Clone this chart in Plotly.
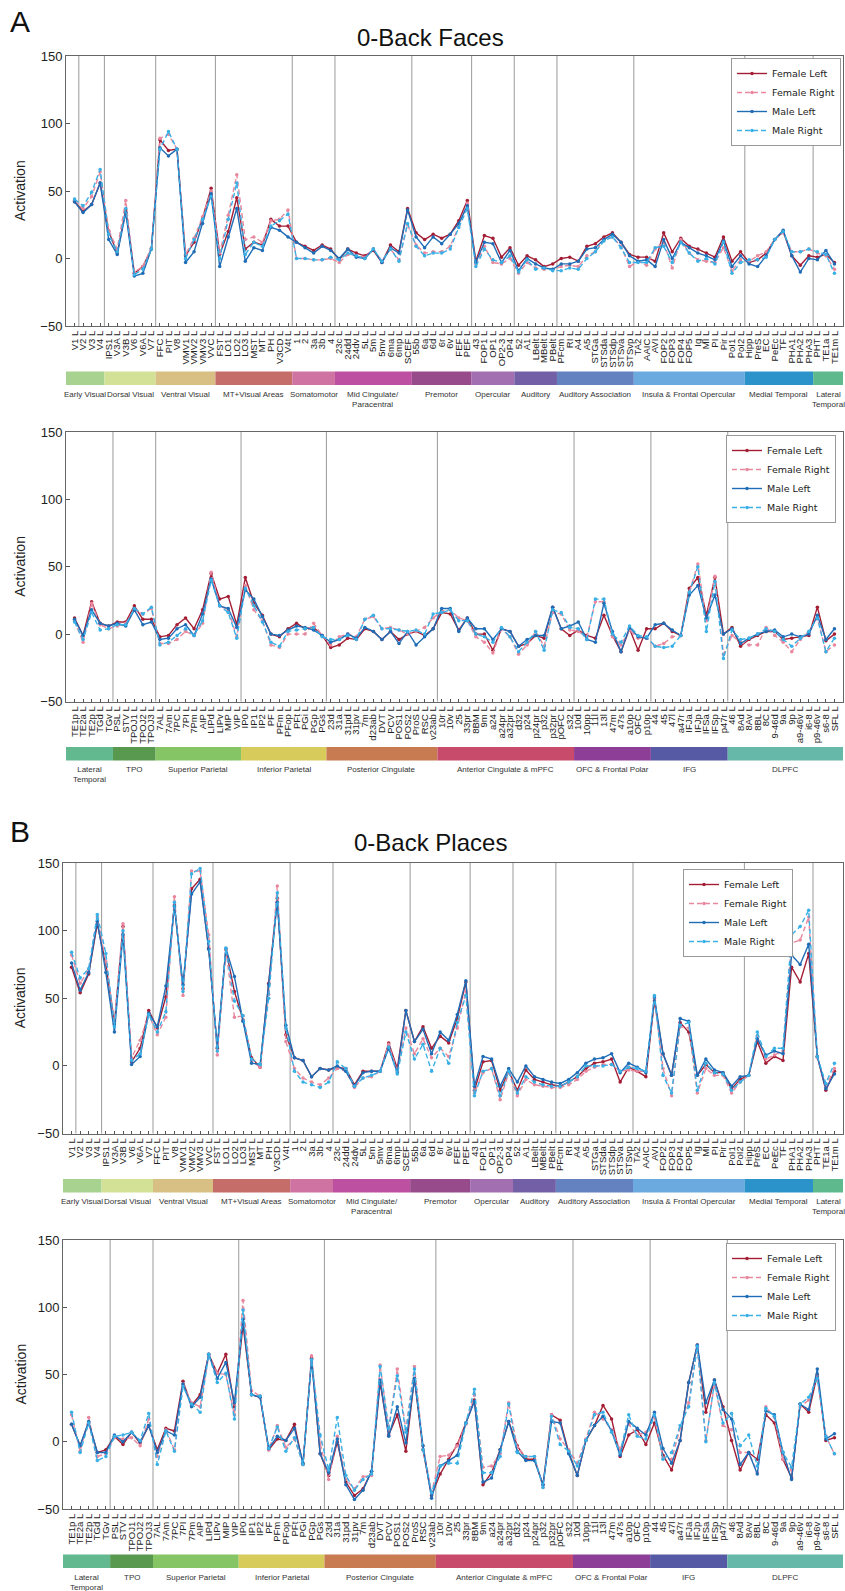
import plotly.graph_objects as go

W, H = 845, 1591

# ---------------- categories ----------------
regions_top = ["V1","V2","V3","V4","IPS1","V3A","V3B","V6","V6A","V7",
               "FFC","PIT","V8","VMV1","VMV2","VMV3","VVC",
               "FST","LO1","LO2","LO3","MST","MT","PH","V3CD","V4t",
               "1","2","3a","3b","4",
               "23c","24dd","24dv","5L","5m","5mv","6ma","6mp","SCEF",
               "55b","6a","6d","6r","6v","FEF","PEF",
               "43","FOP1","OP1","OP2-3","OP4",
               "52","A1","LBelt","MBelt","PBelt",
               "PFcm","RI","A4","A5","STGa","STSda","STSdp","STSva","STSvp",
               "TA2","AAIC","AVI","FOP2","FOP3","FOP4","FOP5","Ig","MI","PI","Pir","PoI1","PoI2",
               "Hipp","PreS","EC","PeEc","TF","PHA1","PHA2","PHA3",
               "PHT","TE1a","TE1m"]
regions_bottom = ["TE1p","TE2a","TE2p","TGd","TGv",
                  "PSL","STV","TPOJ1","TPOJ2","TPOJ3",
                  "7AL","7Am","7PC","7PI","7Pm","AIP","LIPd","LIPv","MIP","VIP",
                  "IP0","IP1","IP2","PF","PFm","PFop","PFt","PGi","PGp","PGs",
                  "23d","31a","31pd","31pv","7m","d23ab","DVT","PCV","POS1","POS2","ProS","RSC","v23ab",
                  "10r","10v","25","33pr","8BM","9m","a24","a24pr","a32pr","d32","p24","p24pr","p32","p32pr","pOFC","s32",
                  "10d","10pp","11l","13l","47m","47s","a10p","OFC","p10p",
                  "44","45","47l","a47r","IFJa","IFJp","IFSa","IFSp","p47r",
                  "46","8Ad","8Av","8BL","8C","9-46d","9a","9p","a9-46v","i6-8","p9-46v","s6-8","SFL"]

groups_top = ["Early Visual","Dorsal Visual","Ventral Visual","MT+Visual Areas","Somatomotor",
              "Mid Cingulate/<br>Paracentral","Premotor","Opercular","Auditory","Auditory Association",
              "Insula & Frontal Opercular","Medial Temporal","Lateral<br>Temporal"]
group_sizes_top = [4, 6, 7, 9, 5, 9, 7, 5, 5, 9, 13, 8, 3]
group_colors_top = ["#a8d28f","#d3e197","#d8c084","#c56d68","#cf74a2","#bd50a0","#974b8b",
                    "#a26fb1","#735fa6","#6482bf","#6aaade","#2c93ca","#5eb98d"]
extra_dividers_top = [1]

groups_bottom = ["Lateral<br>Temporal","TPO","Superior Parietal","Inferior Parietal","Posterior Cingulate",
                 "Anterior Cingulate & mPFC","OFC & Frontal Polar","IFG","DLPFC"]
group_sizes_bottom = [5, 5, 10, 10, 13, 16, 9, 9, 13]
group_colors_bottom = ["#62b98f","#58994f","#86c566","#d6cb5b","#c87a51","#c84b6b","#8d3e97","#5659a3","#66b9a8"]
extra_dividers_bottom = []

series_names = ["Female Left", "Female Right", "Male Left", "Male Right"]

# ---------------- values: 0-Back Faces ----------------
faces_top_FL = [42,35,40,56,20,4,36,-11,-6,7,
                88,80,81,2,12,30,52,3,20,45,
                7,12,10,29,24,24,12,9,6,10,
                7,-1,7,4,2,6,-3,10,5,37,
                19,14,18,15,18,28,43,-2,17,15,
                1,8,-5,2,-1,-6,-4,0,1,-2,
                9,11,16,19,12,3,1,1,-2,19,
                5,15,9,7,4,1,16,-2,5,-3,
                -1,4,14,20,2,-5,2,1,3,-3]
faces_top_FR = [43,37,46,64,21,7,43,-10,-6,8,
                89,92,81,3,15,31,50,4,32,62,
                14,16,12,28,29,36,0,0,-1,-1,
                0,-3,3,2,1,7,-2,7,-1,25,
                10,4,5,5,9,24,41,-4,9,-3,
                -4,0,-11,-3,-7,-8,-8,-6,-5,-6,
                2,5,14,16,9,-6,-2,-5,7,12,
                -7,14,4,-1,-2,-3,8,-9,-1,-2,
                2,5,14,19,5,5,7,4,2,-8]
faces_top_ML = [42,34,40,56,14,3,34,-13,-11,7,
                82,76,81,-3,5,26,48,-6,16,37,
                -2,8,6,23,21,16,12,8,4,9,
                6,0,7,1,0,7,-3,8,4,36,
                16,8,16,11,18,26,39,-3,12,11,
                -3,6,-9,0,-4,-7,-8,-4,-4,-2,
                7,8,14,18,12,2,-2,-1,-6,14,
                0,12,8,4,2,-1,13,-6,2,-4,
                -6,2,14,21,2,-10,0,-1,6,-4]
faces_top_MR = [44,39,49,66,18,5,37,-12,-8,7,
                81,94,81,0,14,29,46,0,29,56,
                3,12,9,24,28,33,0,0,-1,-1,
                1,-1,4,2,0,7,-2,7,-2,26,
                9,2,4,4,7,23,37,-6,7,-1,
                -3,2,-10,-1,-8,-7,-9,-9,-7,-8,
                0,5,13,16,8,-3,-3,-3,8,9,
                -3,12,4,-2,0,-4,12,-11,-3,-1,
                -1,1,14,20,5,5,7,5,3,-11]

faces_bottom_FL = [12,-1,24,8,6,9,9,21,11,11,
                   -2,-1,7,12,4,18,45,26,28,7,
                   42,23,14,0,-2,4,8,4,5,-1,
                   -10,-8,-3,-4,4,2,-4,2,-4,0,
                   2,-1,4,16,15,3,12,0,0,-12,
                   4,2,-9,-7,-1,-3,20,4,-1,3,
                   -1,-3,14,-1,-13,4,-12,4,4,8,
                   2,-1,34,42,14,42,0,5,-9,-4,
                   -1,2,2,-4,-3,-2,-1,20,-5,0]
faces_bottom_FR = [10,-6,23,7,4,6,8,18,15,19,
                   -7,-7,-4,2,-1,8,46,21,18,-2,
                   36,18,10,-8,-10,0,0,0,8,-1,
                   -8,-2,0,-2,11,13,4,5,3,0,
                   2,5,12,17,18,12,10,-2,-6,-14,
                   4,-2,-15,-8,2,-9,16,15,3,2,
                   -2,24,24,-2,-8,3,-3,-3,-9,-7,
                   -2,-1,31,52,10,43,-15,-1,-6,-8,
                   -8,5,-1,-6,-13,-4,2,12,-13,-8]
faces_bottom_ML = [11,-1,18,8,6,8,6,18,7,9,
                   -4,-3,4,7,-1,15,41,21,19,5,
                   33,26,13,0,-1,3,6,5,3,-1,
                   -6,-4,0,-3,5,2,-4,2,-7,2,
                   -8,-2,4,19,19,2,12,4,4,-4,
                   4,2,-9,-4,-1,-1,20,4,6,9,
                   -4,-6,23,2,-13,5,-2,-3,7,8,
                   3,-1,29,36,12,29,0,4,-7,-3,
                   0,2,3,-2,0,-2,0,14,-4,4]
faces_bottom_MR = [9,-4,16,3,4,7,7,19,15,20,
                   -8,-6,-1,4,-1,10,40,21,16,-3,
                   34,21,9,-6,-9,2,3,4,5,-2,
                   -4,-4,-1,-4,11,14,4,4,3,2,
                   3,0,15,16,18,10,10,0,-2,-6,
                   5,-2,-13,-6,2,-12,18,16,5,4,
                   -4,26,26,0,-6,6,-1,-2,-9,-10,
                   -9,-1,31,50,2,39,-18,3,-4,-3,
                   0,4,2,-4,-9,-3,2,12,-13,-3]

# ---------------- values: 0-Back Places ----------------
places_top_FL = [73,54,68,105,75,31,103,3,13,41,
                 28,51,119,57,131,138,87,13,86,55,
                 34,6,-1,61,124,23,6,4,-8,-2,
                 -3,-1,-2,-14,-4,-4,-4,17,-2,41,
                 18,29,13,22,17,35,62,-18,3,4,
                 -18,-4,-18,-3,-10,-12,-14,-15,-12,-8,
                 -2,2,3,5,-12,-1,-4,-8,48,9,
                 -7,32,25,-7,1,-5,-5,-17,-10,-7,
                 18,2,7,4,73,62,83,7,-18,-4]
places_top_FR = [82,61,71,110,77,33,105,6,19,38,
                 23,36,125,52,144,144,97,8,86,36,
                 37,4,-1,53,133,18,-2,-9,-12,-14,
                 -9,-2,-4,-16,-9,-8,-4,16,-4,28,
                 9,20,6,13,7,28,55,-20,-5,-2,
                 -25,-5,-22,-10,-14,-15,-16,-16,-14,-10,
                 -4,-1,1,1,-4,-3,-4,-4,50,-2,
                 -22,29,28,-20,-2,-7,-7,-20,-12,-7,
                 22,5,8,11,91,93,110,6,-15,-2]
places_top_ML = [76,56,69,107,69,25,97,1,7,39,
                 29,59,118,60,127,136,86,14,87,66,
                 33,2,1,60,121,30,6,4,-8,-2,
                 -3,0,-4,-15,-5,-4,-4,13,-5,41,
                 18,27,9,25,19,38,63,-15,7,5,
                 -15,-2,-12,0,-8,-10,-12,-13,-10,-5,
                 2,5,6,9,-5,2,-1,-5,51,9,
                 -7,35,33,-7,5,-3,-5,-15,-8,-7,
                 20,8,11,9,82,75,90,7,-17,-6]
places_top_MR = [84,65,72,112,83,29,100,4,9,38,
                 25,40,121,55,142,146,92,11,87,48,
                 37,5,1,50,128,28,-4,-12,-14,-16,
                 -12,3,-2,-15,-9,-7,-4,14,-6,25,
                 5,16,-4,13,2,32,52,-22,-4,-2,
                 -22,-4,-20,-8,-12,-14,-15,-15,-12,-8,
                 0,0,0,1,-4,-1,-2,-4,52,-7,
                 -20,30,32,-18,2,-5,-6,-18,-12,-7,
                 25,7,13,13,97,103,115,7,-13,2]

places_bottom_FL = [13,-3,14,-8,-6,4,-2,7,-1,12,
                    -6,10,8,45,27,35,65,51,65,26,
                    87,35,33,-6,2,1,13,-17,62,-9,
                    -25,0,-30,-40,-35,-22,44,5,20,-7,
                    47,-6,-40,-24,-13,-2,14,31,-32,-23,
                    -6,15,-3,-13,-13,-32,20,16,-8,-25,
                    1,12,27,17,-11,5,9,-2,14,-10,
                    -21,1,44,72,22,46,26,1,-21,-8,
                    -13,20,14,-13,-27,28,22,50,1,3]
places_bottom_FR = [20,-7,18,-11,-9,3,2,3,-3,17,
                    -11,9,-6,43,29,26,64,51,50,20,
                    105,38,34,-6,12,-4,2,-16,64,-1,
                    -28,4,-28,-35,-26,-25,57,9,54,9,
                    56,-3,-38,-11,-10,-3,13,35,-19,-18,
                    -9,29,-4,-11,-11,-34,20,2,-6,-16,
                    2,22,17,9,-6,13,5,7,18,-12,
                    -13,10,29,71,1,43,12,9,-8,-8,
                    -23,26,18,-13,-21,26,31,49,4,-9]
places_bottom_ML = [13,-3,15,-8,-8,5,0,7,0,12,
                    -8,8,5,43,26,33,65,47,59,29,
                    91,35,33,-5,4,1,10,-16,61,-9,
                    -23,2,-32,-43,-36,-22,46,4,26,-1,
                    47,-3,-42,-18,-14,-10,14,30,-30,-27,
                    -6,15,-7,-14,-14,-32,15,14,-9,-25,
                    1,12,19,8,-10,15,10,5,22,-5,
                    -16,1,44,72,29,46,24,17,-17,-8,
                    -24,23,20,-8,-28,28,24,54,2,6]
places_bottom_MR = [22,-8,14,-14,-11,4,5,7,1,21,
                    -17,8,-7,41,28,22,65,44,51,17,
                    98,35,34,-5,11,-7,3,-17,61,5,
                    -21,18,-25,-36,-28,-24,56,10,49,7,
                    54,-6,-38,-18,-16,-16,14,39,-23,-23,
                    -11,28,-8,-11,-11,-34,19,-2,-7,-18,
                    1,20,22,7,-8,20,4,2,20,-13,
                    -8,12,26,71,0,44,14,21,-3,5,
                    -18,25,19,-8,-19,28,33,47,4,-9]

# ---------------- styling ----------------
series_style = {
    "Female Left":  dict(color="#a31d35", dash="solid"),
    "Female Right": dict(color="#e8879d", dash="5px,3px"),
    "Male Left":    dict(color="#1f6db7", dash="solid"),
    "Male Right":   dict(color="#38b0e6", dash="5px,3px"),
}
NARROW = "Liberation Sans Narrow, Arial Narrow, Liberation Sans, Arial"
SANS = "Liberation Sans, Arial, sans-serif"
RIGHT_PX = 843

panels = [
    dict(regions=regions_top, groups=groups_top, sizes=group_sizes_top, colors=group_colors_top,
         extra=extra_dividers_top,
         data=[faces_top_FL, faces_top_FR, faces_top_ML, faces_top_MR],
         top=56, bot=326, left=66, leg_right=841, leg_top=58),
    dict(regions=regions_bottom, groups=groups_bottom, sizes=group_sizes_bottom, colors=group_colors_bottom,
         extra=extra_dividers_bottom,
         data=[faces_bottom_FL, faces_bottom_FR, faces_bottom_ML, faces_bottom_MR],
         top=432, bot=701.5, left=66, leg_right=836, leg_top=435),
    dict(regions=regions_top, groups=groups_top, sizes=group_sizes_top, colors=group_colors_top,
         extra=extra_dividers_top,
         data=[places_top_FL, places_top_FR, places_top_ML, places_top_MR],
         top=863, bot=1133.5, left=63, leg_right=793, leg_top=869),
    dict(regions=regions_bottom, groups=groups_bottom, sizes=group_sizes_bottom, colors=group_colors_bottom,
         extra=extra_dividers_bottom,
         data=[places_bottom_FL, places_bottom_FR, places_bottom_ML, places_bottom_MR],
         top=1240, bot=1509, left=63, leg_right=836, leg_top=1243),
]

fig = go.Figure()
shapes = []
annotations = []
layout_axes = {}

def py(px):
    return 1 - px / H

for k, p in enumerate(panels, start=1):
    sfx = "" if k == 1 else str(k)
    xa, ya = "x" + sfx, "y" + sfx
    legname = "legend" + sfx
    n = len(p["regions"])
    xs = list(range(1, n + 1))
    for name, vals in zip(series_names, p["data"]):
        st = series_style[name]
        fig.add_trace(go.Scatter(
            x=xs, y=vals, name=name, mode="lines+markers",
            line=dict(color=st["color"], width=1.4, dash=st["dash"]),
            marker=dict(color=st["color"], size=3.5),
            xaxis=xa, yaxis=ya, legend=legname, showlegend=True,
            hovertemplate="%{text}: %{y}<extra>" + name + "</extra>",
            text=[r + " L" for r in p["regions"]],
        ))

    layout_axes["xaxis" + sfx] = dict(
        domain=[p["left"] / W, RIGHT_PX / W], anchor=ya, range=[0, n + 1],
        tickmode="array", tickvals=xs, ticktext=[r + " L" for r in p["regions"]],
        tickangle=-90, tickfont=dict(family=NARROW, size=9.5, color="#222"),
        ticks="inside", ticklen=3, tickcolor="#555",
        showline=True, linecolor="#666", linewidth=1, mirror=True,
        showgrid=False, zeroline=False, automargin=False, fixedrange=True)
    layout_axes["yaxis" + sfx] = dict(
        domain=[py(p["bot"]), py(p["top"])], anchor=xa, range=[-50, 150],
        tickmode="array", tickvals=[-50, 0, 50, 100, 150],
        tickfont=dict(family=NARROW, size=13, color="#222"),
        ticks="inside", ticklen=4, tickcolor="#555",
        showline=True, linecolor="#666", linewidth=1, mirror=True,
        showgrid=False, zeroline=False, automargin=False, fixedrange=True)

    layout_axes[legname] = dict(
        x=p["leg_right"] / W, y=py(p["leg_top"]), xanchor="right", yanchor="top",
        bgcolor="white", bordercolor="#999", borderwidth=1,
        font=dict(family="DejaVu Sans, sans-serif", size=9.5, color="#222"),
        itemwidth=30, tracegroupgap=0, itemclick=False, itemdoubleclick=False)

    # group dividers
    bounds = []
    c = 0
    for s in p["sizes"]:
        c += s
        bounds.append(c)
    dividers = [b + 0.5 for b in bounds[:-1]] + [e + 0.5 for e in p["extra"]]
    for d in dividers:
        shapes.append(dict(type="line", xref=xa, yref=ya + " domain", x0=d, x1=d, y0=0, y1=1,
                           line=dict(color="#a3a3a3", width=1.1), layer="below"))

    # colour bar and group names
    cb_top = p["bot"] + 45.5
    cb_bot = cb_top + 13.5
    start = 0
    for i, (g, s, col) in enumerate(zip(p["groups"], p["sizes"], p["colors"])):
        x0 = 0 if i == 0 else start + 0.5
        x1 = n + 1 if i == len(p["sizes"]) - 1 else start + s + 0.5
        shapes.append(dict(type="rect", xref=xa, yref="paper", x0=x0, x1=x1,
                           y0=py(cb_bot), y1=py(cb_top), fillcolor=col, line=dict(width=0)))
        annotations.append(dict(text=g, xref=xa, yref="paper", x=(x0 + x1) / 2, y=py(cb_bot + 2.5),
                                xanchor="center", yanchor="top", showarrow=False,
                                font=dict(family=SANS, size=8, color="#333")))
        start += s

    # y label
    annotations.append(dict(text="Activation", xref="paper", yref="paper", x=20 / W,
                            y=py((p["top"] + p["bot"]) / 2), textangle=-90, showarrow=False,
                            xanchor="center", yanchor="middle",
                            font=dict(family=SANS, size=14, color="#222")))

# titles and panel letters
annotations += [
    dict(text="A", xref="paper", yref="paper", x=20 / W, y=py(21), showarrow=False,
         xanchor="center", yanchor="middle", font=dict(family=SANS, size=30, color="#111")),
    dict(text="0-Back Faces", xref="paper", yref="paper", x=430 / W, y=py(37), showarrow=False,
         xanchor="center", yanchor="middle", font=dict(family=NARROW, size=24, color="#111")),
    dict(text="B", xref="paper", yref="paper", x=20 / W, y=py(831), showarrow=False,
         xanchor="center", yanchor="middle", font=dict(family=SANS, size=30, color="#111")),
    dict(text="0-Back Places", xref="paper", yref="paper", x=430 / W, y=py(842), showarrow=False,
         xanchor="center", yanchor="middle", font=dict(family=NARROW, size=24, color="#111")),
]

fig.update_layout(
    width=W, height=H, margin=dict(l=0, r=0, t=0, b=0),
    paper_bgcolor="white", plot_bgcolor="white",
    shapes=shapes, annotations=annotations, hovermode="closest",
    **layout_axes)

fig.write_html("out.html", config={"displayModeBar": False},
               post_script="document.body.style.margin='0';document.body.style.overflow='hidden';")
